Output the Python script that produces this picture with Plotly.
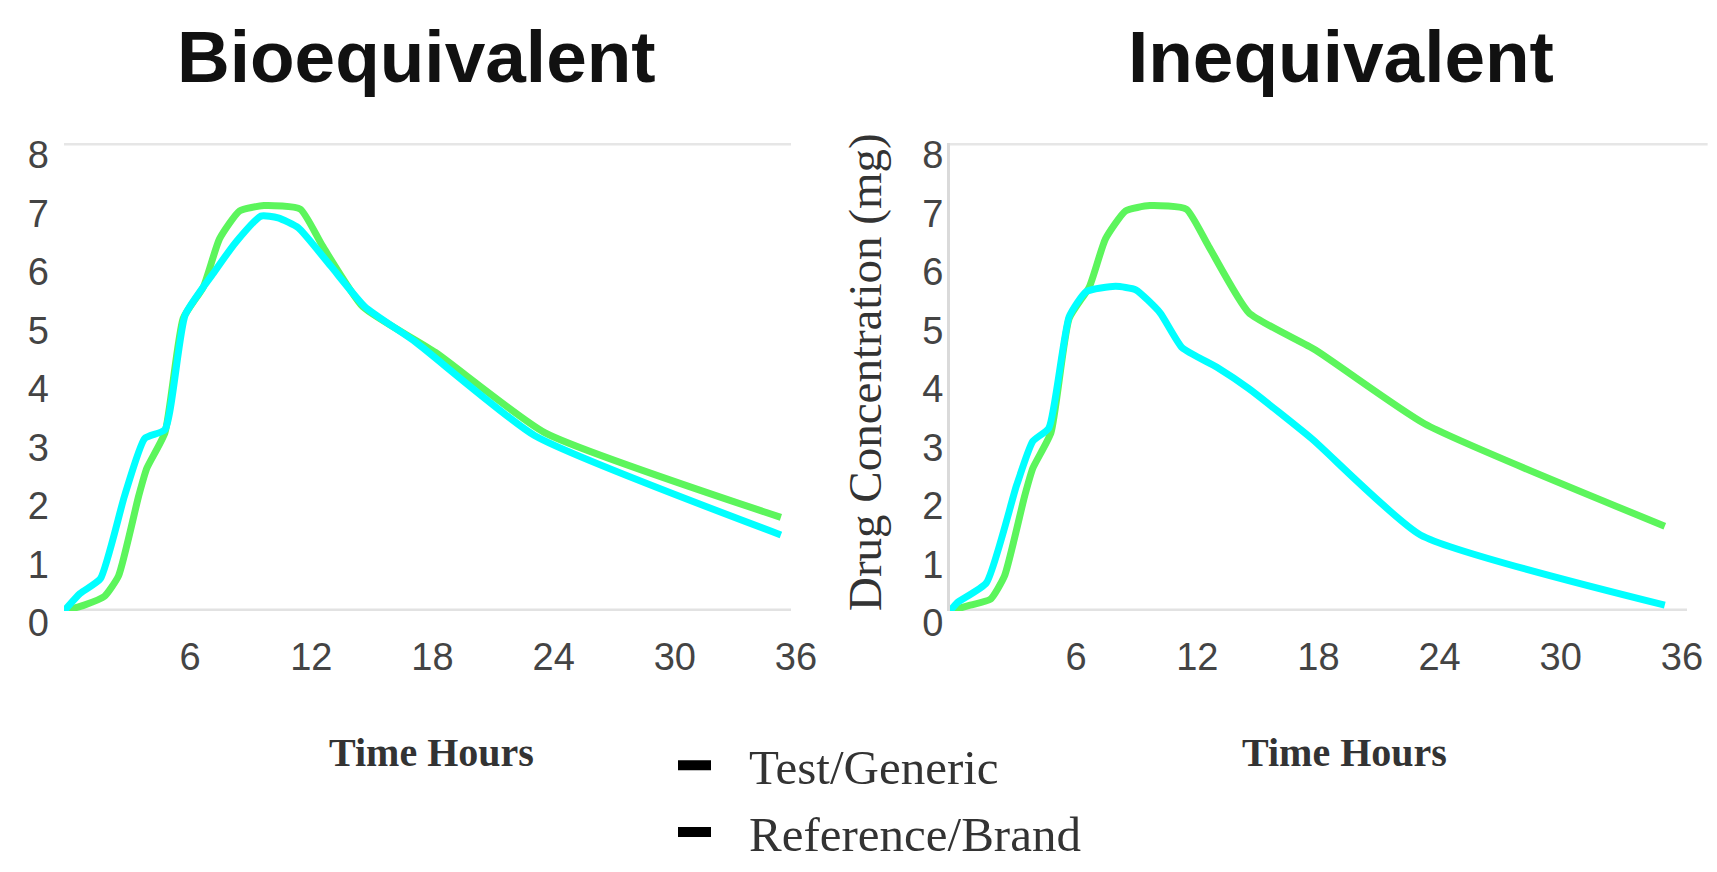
import plotly.graph_objects as go

# ---------------- data ----------------
# Bioequivalent panel
bio_ref_hours = [0, 1.0, 2.0, 2.7, 3.7, 4.1, 5.0, 5.9, 6.9, 7.7, 8.7, 9.9, 11.7, 12.8, 14.8, 18.4, 23.8, 35.5]
bio_ref_conc = [0, 0.1, 0.25, 0.6, 1.97, 2.44, 3.05, 5.0, 5.54, 6.36, 6.84, 6.93, 6.87, 6.24, 5.2, 4.42, 3.05, 1.6]
bio_test_hours = [0, 0.8, 1.8, 3.0, 4.0, 5.0, 6.0, 7.45, 8.5, 9.75, 10.6, 11.6, 13.2, 14.9, 17.4, 23.3, 35.5]
bio_test_conc = [0, 0.3, 0.55, 1.97, 2.95, 3.1, 5.06, 5.8, 6.3, 6.75, 6.72, 6.55, 5.9, 5.2, 4.6, 3.0, 1.3]

# Inequivalent panel
ineq_ref_hours = [0, 1.0, 2.0, 2.7, 3.7, 4.1, 5.0, 5.9, 6.9, 7.7, 8.7, 9.9, 11.7, 12.8, 14.8, 18.1, 23.5, 35.4]
ineq_ref_conc = [0, 0.1, 0.2, 0.6, 1.97, 2.44, 3.05, 5.0, 5.54, 6.36, 6.84, 6.93, 6.87, 6.24, 5.1, 4.46, 3.2, 1.45]
ineq_test_hours = [0, 0.35, 1.8, 3.3, 4.1, 4.9, 5.9, 6.75, 8.2, 9.2, 10.4, 11.5, 13.2, 14.8, 17.9, 23.3, 35.4]
ineq_test_conc = [0, 0.14, 0.48, 2.15, 2.9, 3.13, 5.03, 5.46, 5.55, 5.49, 5.1, 4.5, 4.17, 3.8, 2.95, 1.3, 0.1]

x_ticks = [6, 12, 18, 24, 30, 36]
y_ticks = [0, 1, 2, 3, 4, 5, 6, 7, 8]
panel_titles = ["Bioequivalent", "Inequivalent"]
x_title = "Time Hours"
y_title = "Drug Concentration (mg)"
series_names = ["Test/Generic", "Reference/Brand"]

# ---------------- style ----------------
PAGE_W, PAGE_H = 1717, 872
BODY = 8                      # default page margin around the figure
W, H = PAGE_W - 2 * BODY, PAGE_H - 2 * BODY
GREEN = "#5cf55c"
CYAN = "#00ffff"
SANS = "Liberation Sans, Arial, sans-serif"
SERIF = "Liberation Serif, Times New Roman, serif"


def px(x):  # page pixel -> paper x
    return (x - BODY) / W


def py(y):  # page pixel -> paper y
    return 1 - (y - BODY) / H


fig = go.Figure()


def add_line(x, y, color, xa, ya):
    fig.add_trace(go.Scatter(
        x=x, y=y, mode="lines", xaxis=xa, yaxis=ya, showlegend=False,
        line=dict(color=color, width=7, shape="spline", smoothing=0.5),
        hoverinfo="skip"))


add_line(bio_ref_hours, bio_ref_conc, GREEN, "x", "y")
add_line(bio_test_hours, bio_test_conc, CYAN, "x", "y")
add_line(ineq_ref_hours, ineq_ref_conc, GREEN, "x2", "y2")
add_line(ineq_test_hours, ineq_test_conc, CYAN, "x2", "y2")

# legend-only entries (short black markers as in the reference)
for name in series_names:
    fig.add_trace(go.Scatter(x=[None], y=[None], mode="lines", name=name,
                             line=dict(color="black", width=11, dash="33px,300px")))

ydom = [py(611), py(143)]
xdom1 = [px(64), px(791)]
xdom2 = [px(950), px(1687)]

xcommon = dict(tickvals=x_ticks, ticktext=[str(v) for v in x_ticks], showgrid=False,
               zeroline=False, showline=False, ticks="",
               tickfont=dict(family=SANS, size=38, color="#444444"),
               ticklabelstandoff=20, ticklabelshift=5, fixedrange=True)
ycommon = dict(range=[0, 8], tickvals=y_ticks, ticktext=[str(v) for v in y_ticks],
               showgrid=False, zeroline=False, ticks="", domain=ydom,
               tickfont=dict(family=SANS, size=38, color="#444444"),
               ticklabelshift=12, fixedrange=True)

fig.update_layout(
    width=W, height=H, margin=dict(l=0, r=0, t=0, b=0, autoexpand=False),
    paper_bgcolor="white", plot_bgcolor="white",
    xaxis=dict(domain=xdom1, range=[0, 36], anchor="y", **xcommon),
    yaxis=dict(anchor="x", showline=False, ticklabelstandoff=14, **ycommon),
    xaxis2=dict(domain=xdom2, range=[0, 36.5], anchor="y2", **xcommon),
    yaxis2=dict(anchor="x2", showline=True, linecolor="#dadada", linewidth=3,
                ticklabelstandoff=-4, **ycommon),
    legend=dict(x=px(673), y=py(727), xanchor="left", yanchor="top",
                font=dict(family=SERIF, size=49, color="#333333"),
                bgcolor="rgba(0,0,0,0)", itemwidth=66, tracegroupgap=0),
    showlegend=True,
)

# light horizontal rules at y = 0 and y = 8
for xa, ya, ext in [("x", "y", 1.0), ("x2", "y2", 1.028)]:
    for yv, col, x1 in [(8, "#e6e6e6", ext), (0, "#e2e2e2", 1.0)]:
        fig.add_shape(type="line", xref=f"{xa} domain", yref=ya, x0=0, x1=x1, y0=yv, y1=yv,
                      line=dict(color=col, width=5), layer="below")

# panel titles
for xc, t in zip([416, 1341], panel_titles):
    fig.add_annotation(x=px(xc), y=py(56), xref="paper", yref="paper", text=f"<b>{t}</b>",
                       showarrow=False, xanchor="center", yanchor="middle",
                       font=dict(family=SANS, size=73, color="#111111"))

# x-axis titles
for xc in [431, 1344]:
    fig.add_annotation(x=px(xc), y=py(752), xref="paper", yref="paper", text=f"<b>{x_title}</b>",
                       showarrow=False, xanchor="center", yanchor="middle",
                       font=dict(family=SERIF, size=40, color="#333333"))

# y-axis title on right panel
fig.add_annotation(x=px(865), y=py(372), xref="paper", yref="paper", text=y_title,
                   textangle=-90, showarrow=False, xanchor="center", yanchor="middle",
                   font=dict(family=SERIF, size=47, color="#333333"))

fig.write_html("out.html")
